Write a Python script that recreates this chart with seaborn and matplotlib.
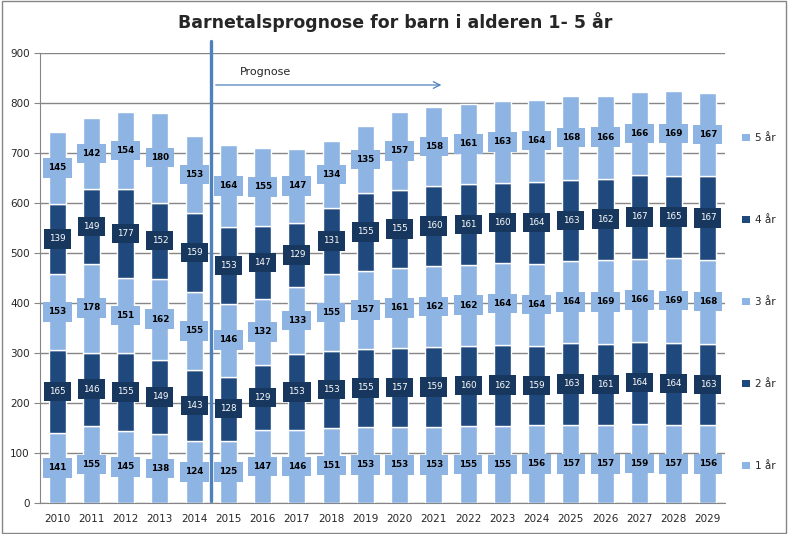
import matplotlib
matplotlib.use("Agg")
import matplotlib.pyplot as plt
import seaborn as sns
import numpy as np
import pandas as pd
from matplotlib.patches import Patch, Rectangle

years = [str(y) for y in range(2010, 2030)]
s1 = [141,155,145,138,124,125,147,146,151,153,153,153,155,155,156,157,157,159,157,156]
s2 = [165,146,155,149,143,128,129,153,153,155,157,159,160,162,159,163,161,164,164,163]
s3 = [153,178,151,162,155,146,132,133,155,157,161,162,162,164,164,164,169,166,169,168]
s4 = [139,149,177,152,159,153,147,129,131,155,155,160,161,160,164,163,162,167,165,167]
s5 = [145,142,154,180,153,164,155,147,134,135,157,158,161,163,164,168,166,166,169,167]
series_names = ["1 år", "2 år", "3 år", "4 år", "5 år"]
series = [s1, s2, s3, s4, s5]
title = "Barnetalsprognose for barn i alderen 1- 5 år"

light = "#8DB4E2"
dark = "#1F497D"
dark_box = "#17375E"
colors = [light, dark, light, dark, light]

sns.set_style("white")
plt.rcParams['font.family'] = ['DejaVu Sans']

fig = plt.figure(figsize=(7.88, 5.34), dpi=100)
ax = fig.add_axes([40/788, 31/534, 685/788, 450/534])

bottom = np.zeros(len(years))
for name, vals, c in zip(series_names, series, colors):
    df = pd.DataFrame({"year": years, "value": vals})
    sns.barplot(data=df, x="year", y="value", color=c, width=0.5,
                bottom=bottom.copy(), edgecolor="white", linewidth=1,
                saturation=1, ax=ax, zorder=3)
    for i, v in enumerate(vals):
        mid = bottom[i] + v / 2
        if c == dark:
            ax.text(i, mid, str(v), ha="center", va="center", fontsize=6.3,
                    color="white", zorder=5,
                    bbox=dict(boxstyle="square,pad=0.6", fc=dark_box, ec="none"))
        else:
            ax.text(i, mid, str(v), ha="center", va="center", fontsize=6.3,
                    color="black", fontweight="bold", zorder=5,
                    bbox=dict(boxstyle="square,pad=0.6", fc=light, ec="none"))
    bottom = bottom + np.array(vals)

ax.set_ylim(0, 900)
ax.set_xlim(-0.5, len(years) - 0.5)
ax.set_yticks(range(0, 901, 100))
ax.yaxis.grid(True, color="#868686", linewidth=1, zorder=0)
ax.set_axisbelow(True)
ax.set_xlabel("")
ax.set_ylabel("")
for sp in ["top", "right"]:
    ax.spines[sp].set_visible(False)
ax.spines["left"].set_color("#868686")
ax.spines["bottom"].set_color("#868686")
ax.tick_params(axis="x", length=0, labelsize=7.5, pad=8)
ax.tick_params(axis="y", length=4, color="#868686", labelsize=7.5, left=True)

# Prognose marker
ax.plot([4.5, 4.5], [5, 925], color="#4F81BD", lw=2.4, clip_on=False, zorder=6)
ax.annotate("", xy=(11.3, 836), xytext=(4.55, 836),
            arrowprops=dict(arrowstyle="->", color="#4F81BD", lw=0.9,
                            mutation_scale=12), zorder=6)
ax.text(5.35, 862, "Prognose", fontsize=8, va="center", ha="left", zorder=6)

fig.text(0.501, 0.958, title, ha="center", va="center", fontsize=12.5,
         fontweight="bold")

handles = [Patch(facecolor=c, edgecolor="none") for c in colors][::-1]
labels = series_names[::-1]
fig.legend(handles, labels, loc="center left", bbox_to_anchor=(0.93, 0.434),
           frameon=False, fontsize=7.5, handlelength=0.7, handleheight=0.7,
           handletextpad=0.5, labelspacing=6.9)

fig.patches.append(Rectangle((0.002, 0.002), 0.996, 0.996, transform=fig.transFigure,
                             fill=False, edgecolor="#868686", lw=1))

fig.savefig("out.png", dpi=100)
